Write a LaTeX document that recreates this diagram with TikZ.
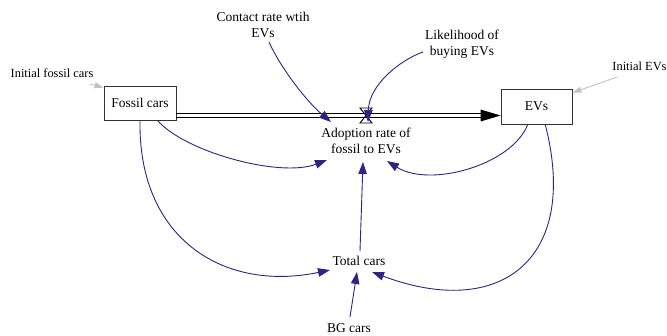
\documentclass[tikz,border=0pt]{standalone}
\usepackage{fontspec}
\setmainfont{Liberation Serif}
\usetikzlibrary{arrows.meta,calc}
\definecolor{linkblue}{RGB}{46,36,132}
\definecolor{ghost}{RGB}{195,195,195}
\begin{document}
\begin{tikzpicture}[x=1pt,y=-1pt,
  every node/.style={font=\fontsize{13.5}{16}\selectfont, inner sep=0pt},
  stock/.style={draw=black!80, line width=0.9pt, minimum height=34pt},
  lbl/.style={align=center},
  small/.style={font=\fontsize{12.4}{15}\selectfont},
  link/.style={draw=linkblue, line width=0.9pt, -{Triangle[length=12pt,width=8.5pt]}},
  ghostlink/.style={draw=ghost, line width=0.9pt, -{Triangle[length=9pt,width=6pt]}},
  pipeline/.style={draw=black, line width=1pt}]

\fill[white] (0,0) rectangle (667,336);
\useasboundingbox (0,0) rectangle (667,336);

% stocks
\node[stock, minimum width=72pt] (fossil) at (140,103) {Fossil cars};
\node[stock, minimum width=71pt, minimum height=35pt] (evs) at (536.5,106.5) {EVs};

% auxiliaries and constants
\node[lbl] (adopt)   at (366,141) {Adoption rate of\\fossil to EVs};
\node[lbl] (total)   at (359,261) {Total cars};
\node[lbl] (bg)      at (349,328) {BG cars};
\node[lbl] (contact) at (263,25)  {Contact rate wtih\\EVs};
\node[lbl] (likely)  at (462,44)  {Likelihood of\\buying EVs};
\node[lbl, small] (initF) at (52,73)  {Initial fossil cars};
\node[lbl, small] (initE) at (639.5,66) {Initial EVs};
\coordinate (valve) at (366,115.5);

% flow pipe with valve
\coordinate (pipeL) at (fossil.east |- valve);
\coordinate (pipeR) at (evs.west |- valve);
\draw[pipeline] ($(pipeL)+(0,-2)$) -- ($(pipeR)+(-20,-2)$);
\draw[pipeline] ($(pipeL)+(0,2)$) -- ($(pipeR)+(-20,2)$);
\fill[black] ($(pipeR)+(-20,-6)$) -- (pipeR) -- ($(pipeR)+(-20,6)$) -- cycle;
\draw[line width=0.9pt] ($(valve)+(-6,-7.5)$) -- ($(valve)+(6,-7.5)$)
  -- ($(valve)+(-6,7.5)$) -- ($(valve)+(6,7.5)$) -- cycle;

% information links
\draw[link] ($(contact.center)+(6,17)$) .. controls (279,65) and (305,100) .. ($(adopt.center)+(-35,-19)$);
\draw[link] ($(likely.center)+(-39,8)$) .. controls (400,60) and (369,85) .. ($(adopt.center)+(2,-19)$);
\draw[link] (fossil.-45) .. controls (185,152) and (280,178) .. ($(adopt.center)+(-39,19)$);
\draw[link] (evs.-116) .. controls (512,165) and (430,188) .. ($(adopt.center)+(21,20)$);
\draw[link] ($(total.center)+(1,-10)$) -- ($(adopt.center)+(-3,21)$);
\draw[link] (fossil.south) .. controls (138,240) and (225,292) .. ($(total.center)+(-29,9)$);
\draw[link] (evs.-64) .. controls (580,260) and (500,320) .. ($(total.center)+(13,11)$);
\draw[link] ($(bg.center)+(1,-11)$) -- ($(total.center)+(-2,11)$);

% initial values
\draw[ghostlink] ($(initF.center)+(38,11)$) -- (fossil.157);
\draw[ghostlink] ($(initE.center)+(-22,11)$) -- (evs.21);
\end{tikzpicture}
\end{document}
